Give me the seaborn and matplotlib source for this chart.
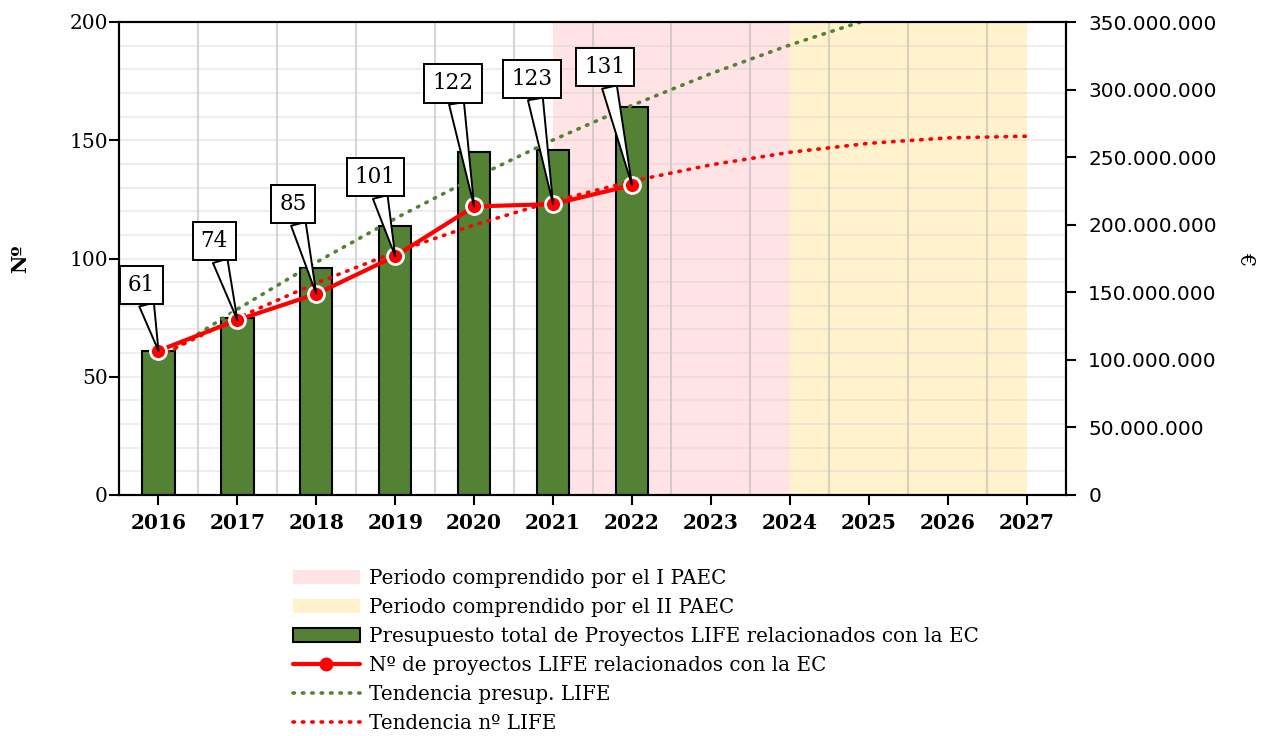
import numpy as np
import pandas as pd
import matplotlib
matplotlib.use("Agg")
import matplotlib.pyplot as plt
import matplotlib.ticker as mticker
from matplotlib.patches import Patch
from matplotlib.lines import Line2D
import seaborn as sns

# datos
years = [2016, 2017, 2018, 2019, 2020, 2021, 2022]
n_proyectos = [61, 74, 85, 101, 122, 123, 131]
presupuesto = [106.5e6, 131e6, 168e6, 199e6, 253.8e6, 255.3e6, 287e6]

# lineas de tendencia (valores leidos por año)
trend_years = [2016, 2017, 2018, 2019, 2020, 2021, 2022, 2023, 2024, 2025, 2026, 2027]
tend_n = [58.7, 74.9, 89.6, 102.7, 114.2, 124.2, 132.7, 139.6, 144.9, 148.7, 151.0, 151.7]
tend_presup = [100.7e6, 137.5e6, 172.2e6, 204.6e6, 234.7e6, 262.7e6, 288.3e6,
               311.8e6, 333.0e6, 352.0e6, 368.7e6, 383.2e6]

paec1 = (2021, 2024)
paec2 = (2024, 2027)

labels = ["Periodo comprendido por el I PAEC",
          "Periodo comprendido por el II PAEC",
          "Presupuesto total de Proyectos LIFE relacionados con la EC",
          "Nº de proyectos LIFE relacionados con la EC",
          "Tendencia presup. LIFE",
          "Tendencia nº LIFE"]

# posicion de las etiquetas (desplazamiento en pixeles)
label_offsets = [(-17, 66), (-23, 79), (-23, 90), (-20, 79), (-21, 123), (-21, 125), (-27, 118)]

verde = "#548235"
rosa = "#FFE3E5"
amarillo = "#FFF2CC"
punteado = (0, (0.4, 2.2))

sns.set_theme(style="ticks")
plt.rcParams['font.family'] = ['DejaVu Serif']
plt.rcParams.update({"text.color": "black", "axes.labelcolor": "black",
                     "xtick.color": "black", "ytick.color": "black"})

fig = plt.figure(figsize=(12.68, 7.36), dpi=100)
ax = fig.add_axes([119/1268, 1-495/736, (1066-119)/1268, (495-22)/736])
ax2 = ax.twinx()
ax.set_zorder(3)
ax2.set_zorder(2)
ax.patch.set_visible(False)

# periodos sombreados
ax2.axvspan(*paec1, color=rosa, zorder=0.1, lw=0)
ax2.axvspan(*paec2, color=amarillo, zorder=0.1, lw=0)

# barras de presupuesto (eje derecho)
sns.barplot(x=years, y=presupuesto, native_scale=True, ax=ax2, color=verde,
            saturation=1, edgecolor="black", linewidth=1.5, width=0.41,
            errorbar=None, zorder=2)

# tendencia presupuesto
ax2.plot(trend_years, tend_presup, color=verde, lw=2.6, linestyle=punteado,
         dash_capstyle="round", zorder=3)

# numero de proyectos (eje izquierdo)
sns.lineplot(x=years, y=n_proyectos, ax=ax, color="red", lw=3, marker="o",
             markersize=11.5, markeredgecolor="white", markeredgewidth=2, zorder=4)
ax.plot(trend_years, tend_n, color="red", lw=2.6, linestyle=punteado,
        dash_capstyle="round", zorder=3)

for yr, v, off in zip(years, n_proyectos, label_offsets):
    ax.annotate(str(v), xy=(yr, v), xytext=off, textcoords="offset pixels",
                ha="center", va="center", fontsize=15.5, zorder=6,
                bbox=dict(boxstyle="square,pad=0.38", fc="white", ec="black", lw=1.4),
                arrowprops=dict(arrowstyle="wedge,tail_width=0.7,shrink_factor=0.5",
                                fc="white", ec="black", lw=1.4, shrinkA=0, shrinkB=0))

# ejes
ax.set_xlim(2015.5, 2027.5)
ax.set_ylim(0, 200)
ax2.set_ylim(0, 350e6)
ax.set_xticks(range(2016, 2028))
ax.set_xticks(np.arange(2015.5, 2028, 1), minor=True)
ax.set_yticks(range(0, 201, 50))
ax2.set_yticks(np.arange(0, 350e6 + 1, 50e6))
ax2.yaxis.set_minor_locator(mticker.MultipleLocator(17.5e6))
ax2.yaxis.set_major_formatter(mticker.FuncFormatter(lambda v, _: f"{int(v):,}".replace(",", ".")))

# rejilla en el eje de las barras (queda detras de ellas)
ax2.xaxis.set_visible(True)
ax2.tick_params(axis="x", which="both", bottom=False, top=False,
                labelbottom=False, labeltop=False)
ax2.grid(which="major", visible=False)
ax2.xaxis.grid(True, which="minor", color="#B5B5B5", alpha=0.55, lw=1.5)
ax2.yaxis.grid(True, which="minor", color="#CFCFCF", alpha=0.4, lw=1.3)
ax2.set_axisbelow(True)
ax.grid(False)

ax.tick_params(axis="x", which="major", direction="out", length=7, width=1.5,
               pad=6, labelsize=14.5)
ax.tick_params(axis="x", which="minor", length=0)
for t in ax.get_xticklabels():
    t.set_fontweight("bold")
ax.tick_params(axis="y", direction="out", length=7, width=1.5, pad=1, labelsize=14.5)
ax2.tick_params(axis="y", which="major", direction="out", length=7, width=1.5, pad=9,
                labelsize=14.5, labelfontfamily="DejaVu Sans")
ax2.tick_params(axis="y", which="minor", length=0)

for a in (ax, ax2):
    for s in a.spines.values():
        s.set_color("black")
        s.set_linewidth(1.5)

ax.set_ylabel("Nº", fontsize=14.5, fontweight="bold", labelpad=28)
ax2.set_ylabel("€", fontsize=15, rotation=270, va="bottom", labelpad=14)
ax.set_xlabel("")

# leyenda
handles = [Patch(fc=rosa, ec="none"),
           Patch(fc=amarillo, ec="none"),
           Patch(fc=verde, ec="black", lw=1.5),
           Line2D([], [], color="red", lw=3, marker="o", ms=9, mfc="red", mec="red"),
           Line2D([], [], color=verde, lw=2.6, linestyle=punteado, dash_capstyle="round"),
           Line2D([], [], color="red", lw=2.6, linestyle=punteado, dash_capstyle="round")]
fig.legend(handles, labels, loc="upper left", bbox_to_anchor=(293/1268, 1-569/736),
           frameon=False, fontsize=14.3, handlelength=3.36, handletextpad=0.45,
           labelspacing=0.5, borderpad=0, borderaxespad=0)

fig.savefig("out.png", dpi=100)
